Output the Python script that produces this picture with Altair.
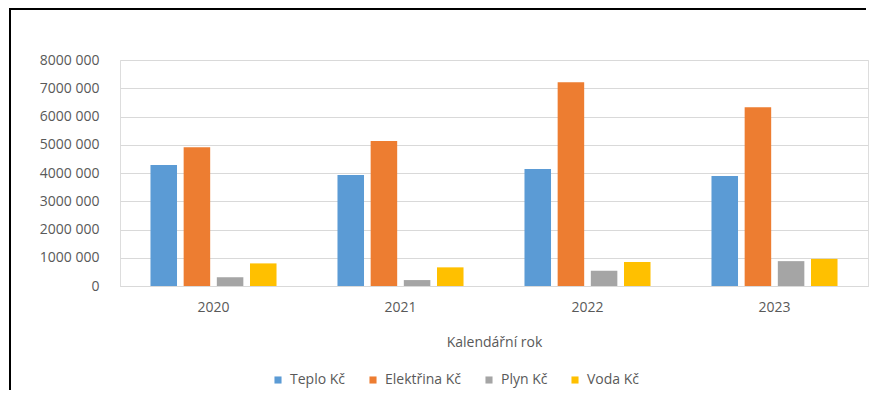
import altair as alt
import pandas as pd

years = ["2020", "2021", "2022", "2023"]
series = ["Teplo Kč", "Elektřina Kč", "Plyn Kč", "Voda Kč"]
teplo = [4280000, 3930000, 4140000, 3890000]
elektrina = [4910000, 5130000, 7210000, 6330000]
plyn = [310000, 210000, 540000, 880000]
voda = [800000, 660000, 850000, 960000]
colors = ["#5B9BD5", "#ED7D31", "#A5A5A5", "#FFC000"]
y_ticks = [0, 1000000, 2000000, 3000000, 4000000, 5000000, 6000000, 7000000, 8000000]
y_labels = ["0", "1000 000", "2000 000", "3000 000", "4000 000", "5000 000", "6000 000", "7000 000", "8000 000"]

rows = []
for s, vals in zip(series, [teplo, elektrina, plyn, voda]):
    for y, v in zip(years, vals):
        rows.append({"rok": y, "serie": s, "hodnota": v})
df = pd.DataFrame(rows)

label_expr = "{" + ",".join(f"'{t}':'{l}'" for t, l in zip(y_ticks, y_labels)) + "}[''+datum.value]"

FONT = "Open Sans"
GRAY = "#595959"
FS = 14

bars = alt.Chart(df).mark_bar().encode(
    x=alt.X("rok:N", sort=years,
            scale=alt.Scale(paddingInner=0.326, paddingOuter=0.163),
            axis=alt.Axis(title="Kalendářní rok", labelAngle=0, ticks=False,
                          domainColor="#D9D9D9", labelPadding=14, titlePadding=21,
                          labelFontSize=FS, titleFontSize=FS, labelColor=GRAY,
                          titleColor=GRAY, labelFont=FONT, titleFont=FONT,
                          titleFontWeight="normal")),
    xOffset=alt.XOffset("serie:N", sort=series,
                        scale=alt.Scale(paddingInner=0.2, paddingOuter=0)),
    y=alt.Y("hodnota:Q",
            scale=alt.Scale(domain=[0, 8000000], nice=False),
            axis=alt.Axis(title=None, values=y_ticks, labelExpr=label_expr,
                          domain=False, ticks=False, labelPadding=21,
                          gridColor="#D9D9D9", labelFontSize=FS,
                          labelColor=GRAY, labelFont=FONT)),
    color=alt.Color("serie:N", sort=series,
                    scale=alt.Scale(domain=series, range=colors),
                    legend=alt.Legend(title=None, orient="none", direction="horizontal",
                                      legendX=151, legendY=313, symbolType="square",
                                      symbolSize=50, columnPadding=20, labelOffset=5,
                                      labelFontSize=FS, labelColor=GRAY, labelFont=FONT,
                                      symbolStrokeWidth=0)),
)

frame_left = alt.Chart(alt.Data(values=[{"a": 1}])).mark_rule(
    color="#000000", strokeWidth=2
).encode(x=alt.value(-110), y=alt.value(-52), y2=alt.value(330))

frame_top = alt.Chart(alt.Data(values=[{"a": 1}])).mark_rule(
    color="#000000", strokeWidth=2
).encode(x=alt.value(-111), x2=alt.value(746), y=alt.value(-51))

chart = alt.layer(bars, frame_left, frame_top).properties(
    width=748, height=226,
    autosize=alt.AutoSizeParams(type="none"),
    padding={"left": 112, "top": 52, "right": 12, "bottom": 106},
).configure_view(strokeWidth=0).configure(background="white")

chart.save("out.html", embed_options={"renderer": "svg", "actions": False})
